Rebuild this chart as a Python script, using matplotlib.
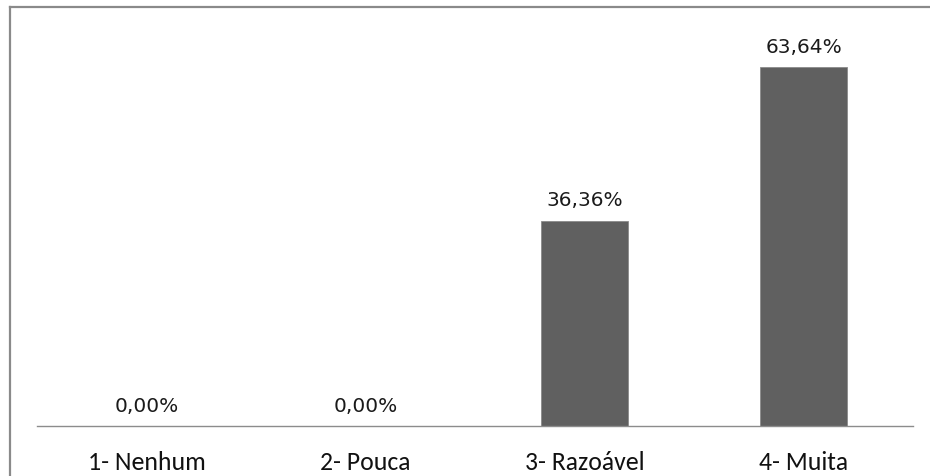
import matplotlib
matplotlib.use("Agg")
import matplotlib.pyplot as plt
from matplotlib.lines import Line2D

categories = ["1- Nenhum", "2- Pouca", "3- Razoável", "4- Muita"]
values = [0.00, 0.00, 36.36, 63.64]
value_labels = ["0,00%", "0,00%", "36,36%", "63,64%"]

tick_font = ["Carlito", "DejaVu Sans"]
label_font = ["DejaVu Sans"]

W, H = 930, 477
fig = plt.figure(figsize=(W / 100, H / 100), dpi=100)
fig.patch.set_facecolor("white")

ax = fig.add_axes([37 / W, (H - 427) / H, (913 - 37) / W, (427 - 32) / H])
x = range(len(categories))
ax.bar(x, values, width=0.4, color="#606060", edgecolor="#8a8a8a", linewidth=0.6)
ax.set_xlim(-0.5, len(categories) - 0.5)
ax.set_ylim(0, 70)

for i, (v, lab) in enumerate(zip(values, value_labels)):
    ax.annotate(lab, (i, v), xytext=(0, 15), textcoords="offset points",
                ha="center", va="center", fontsize=14.5, family=label_font, color="#1a1a1a")

for s in ["top", "right", "left"]:
    ax.spines[s].set_visible(False)
ax.spines["bottom"].set_color("#8c8c8c")
ax.spines["bottom"].set_linewidth(1.0)
ax.set_yticks([])
ax.set_xticks(list(x))
ax.set_xticklabels(categories, fontsize=18.5, family=tick_font, color="#111111")
ax.tick_params(axis="x", length=0, pad=17)

# outer chart frame
fig.add_artist(Line2D([9.5 / W, 1.0], [(H - 7.5) / H, (H - 7.5) / H],
                      transform=fig.transFigure, color="#8a8a8a", lw=1.6))
fig.add_artist(Line2D([9.5 / W, 9.5 / W], [0, (H - 7.5) / H],
                      transform=fig.transFigure, color="#8a8a8a", lw=1.6))

fig.savefig("out.png", dpi=100)
